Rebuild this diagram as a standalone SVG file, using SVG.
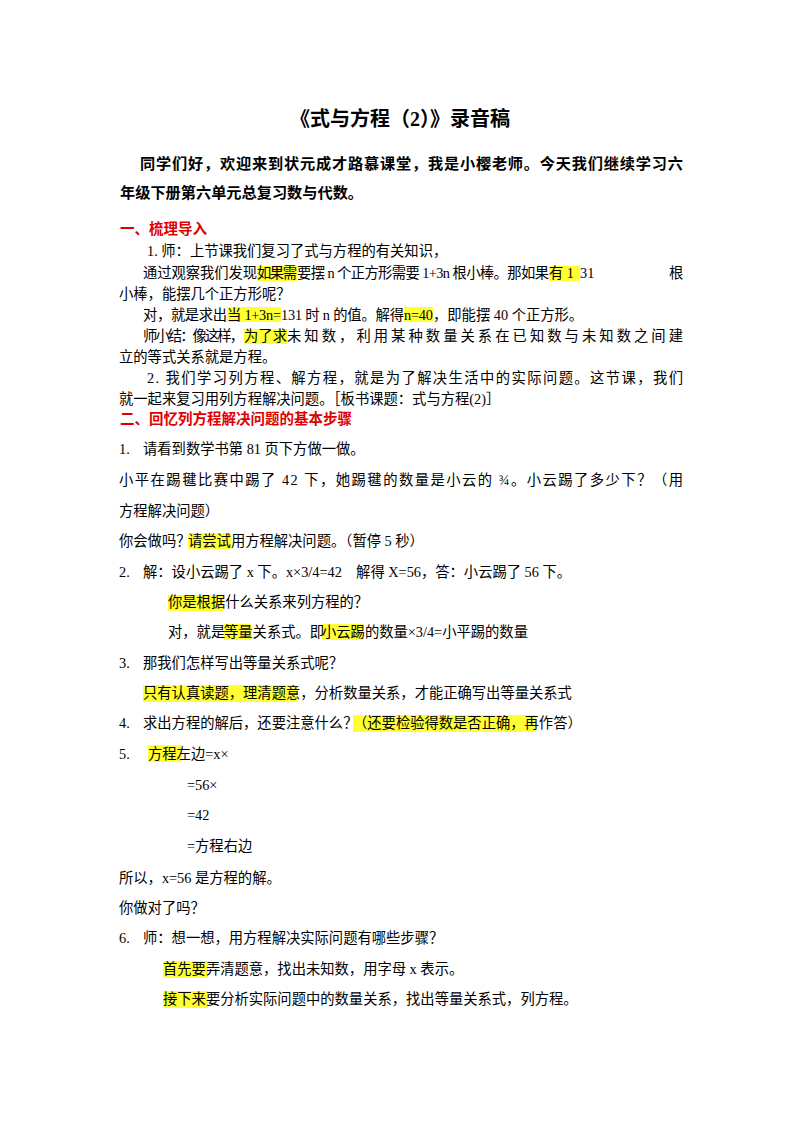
<svg xmlns="http://www.w3.org/2000/svg" width="800" height="1132" viewBox="0 0 800 1132">
<style>
text{font-family:"Liberation Serif","Noto Sans CJK SC",serif;font-size:14.3px;fill:#000}
.b{font-weight:bold}
.r{fill:#e00000;font-weight:bold;font-size:14.5px}
.h{fill:#ffff33}
</style>
<rect width="800" height="1132" fill="#fff"/>
<g id="highlights">
<rect class="h" x="257" y="266" width="40" height="15"/>
<rect class="h" x="549" y="266" width="31" height="15"/>
<rect class="h" x="227" y="307" width="54" height="15"/>
<rect class="h" x="404" y="307" width="29" height="15"/>
<rect class="h" x="244" y="329" width="43" height="15"/>
<rect class="h" x="188" y="533" width="43" height="16"/>
<rect class="h" x="168" y="595" width="55" height="16"/>
<rect class="h" x="224" y="624" width="28" height="16"/>
<rect class="h" x="322" y="624" width="41" height="16"/>
<rect class="h" x="143" y="685" width="154" height="17"/>
<rect class="h" x="353" y="715" width="183" height="17"/>
<rect class="h" x="148" y="745" width="34" height="17"/>
<rect class="h" x="163" y="961" width="45" height="17"/>
<rect class="h" x="163" y="991" width="45" height="17"/>
</g>
<g id="text">
<text x="400" y="126" text-anchor="middle" class="b" style="font-size:20px">《式与方程（2）》录音稿</text>
<text x="140" y="169" class="b" style="font-size:15.2px" textLength="543">同学们好，欢迎来到状元成才路慕课堂，我是小樱老师。今天我们继续学习六</text>
<text x="120" y="198" class="b" style="font-size:15.2px">年级下册第六单元总复习数与代数。</text>
<text x="120" y="234" class="r">一、梳理导入</text>
<text x="147" y="256">1. 师：上节课我们复习了式与方程的有关知识，</text>
<text x="143" y="278" textLength="114">通过观察我们发现</text>
<text x="257" y="278" textLength="40">如果需</text>
<text x="297" y="278" textLength="252">要摆 n 个正方形需要 1+3n 根小棒。那如果</text>
<text x="549" y="278">有 1</text>
<text x="580" y="278">31</text>
<text x="669" y="278">根</text>
<text x="119" y="299">小棒，能摆几个正方形呢？</text>
<text x="143" y="320" textLength="84">对，就是求出</text>
<text x="227" y="320" textLength="54">当 1+3n=</text>
<text x="281" y="320" textLength="123">131 时 n 的值。解得</text>
<text x="404" y="320" textLength="29">n=40</text>
<text x="433" y="320">，即能摆 40 个正方形。</text>
<text x="143" y="341" textLength="101">师小结：像这样，</text>
<text x="244" y="341" textLength="43">为了求</text>
<text x="287" y="341" textLength="396">未知数，利用某种数量关系在已知数与未知数之间建</text>
<text x="119" y="362">立的等式关系就是方程。</text>
<text x="147" y="383" textLength="536">2. 我们学习列方程、解方程，就是为了解决生活中的实际问题。这节课，我们</text>
<text x="119" y="404">就一起来复习用列方程解决问题。［板书课题：式与方程(2)］</text>
<text x="120" y="424" class="r">二、回忆列方程解决问题的基本步骤</text>
<text x="119" y="454">1.</text><text x="143" y="454">请看到数学书第 81 页下方做一做。</text>
<text x="119" y="485" textLength="564">小平在踢毽比赛中踢了 42 下，她踢毽的数量是小云的 ¾。小云踢了多少下？（用</text>
<text x="119" y="516">方程解决问题）</text>
<text x="119" y="546">你会做吗？</text><text x="188" y="546">请尝试用方程解决问题。（暂停 5 秒）</text>
<text x="119" y="577">2.</text><text x="143" y="577">解：设小云踢了 x 下。x×3/4=42　解得 X=56，答：小云踢了 56 下。</text>
<text x="168" y="607">你是根据什么关系来列方程的？</text>
<text x="168" y="637">对，就是</text><text x="224" y="637">等量关系式。即</text><text x="322" y="637">小云踢的数量×3/4=小平踢的数量</text>
<text x="119" y="668">3.</text>
<text x="143" y="668">那我们怎样写出等量关系式呢？</text>
<text x="143" y="698">只有认真读题，理清题意，分析数量关系，才能正确写出等量关系式</text>
<text x="119" y="728">4.</text><text x="143" y="728">求出方程的解后，还要注意什么？</text><text x="353" y="728">（还要检验得数是否正确，再作答）</text>
<text x="119" y="759">5.</text><text x="148" y="759">方程左边=x×</text>
<text x="187" y="790">=56×</text>
<text x="187" y="820">=42</text>
<text x="187" y="851">=方程右边</text>
<text x="119" y="883">所以，x=56 是方程的解。</text>
<text x="119" y="913">你做对了吗？</text>
<text x="119" y="943">6.</text><text x="143" y="943">师：想一想，用方程解决实际问题有哪些步骤？</text>
<text x="163" y="974">首先要弄清题意，找出未知数，用字母 x 表示。</text>
<text x="163" y="1004">接下来要分析实际问题中的数量关系，找出等量关系式，列方程。</text>
</g>
</svg>
